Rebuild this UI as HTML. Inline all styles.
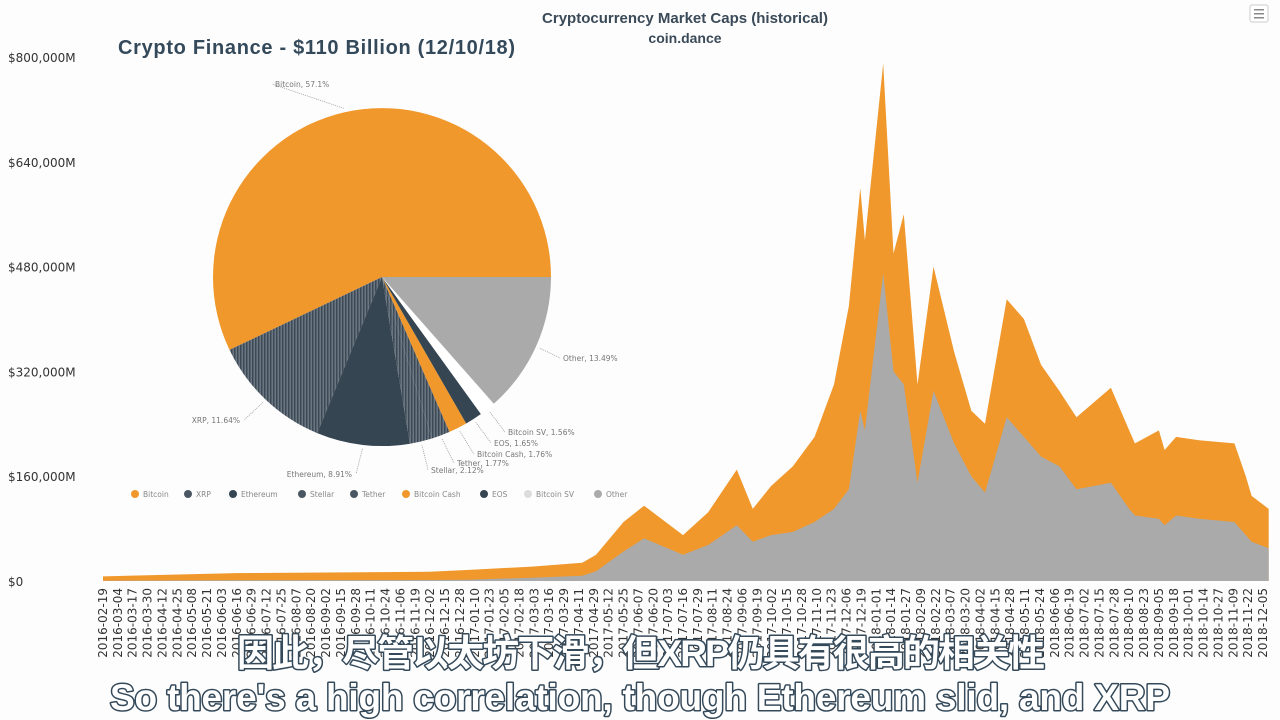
<!DOCTYPE html>
<html><head><meta charset="utf-8"><style>
html,body{margin:0;padding:0;background:#fdfdfd;width:1280px;height:720px;overflow:hidden}
svg{display:block}
.sub{font-family:"Liberation Sans","Noto Sans CJK SC",sans-serif;font-weight:bold;fill:#fff;stroke:#34495a;stroke-width:3px;paint-order:stroke;stroke-linejoin:round}
</style></head><body>
<svg id="chart" width="1280" height="720" xmlns="http://www.w3.org/2000/svg">
<defs>
<pattern id="hatch" width="3" height="3" patternUnits="userSpaceOnUse"><rect width="3" height="3" fill="#6b7680"/><rect width="1.5" height="3" fill="#3c4a57"/></pattern>
</defs>
<text x="685" y="23" text-anchor="middle" font-family="Liberation Sans,sans-serif" font-weight="bold" font-size="15" fill="#3a4a58">Cryptocurrency Market Caps (historical)</text>
<text x="685" y="43" text-anchor="middle" font-family="Liberation Sans,sans-serif" font-weight="bold" font-size="14" fill="#3a4a58">coin.dance</text>
<g><rect x="1250" y="5" width="18" height="17" rx="2" fill="#fff" stroke="#ccc"/><rect x="1254" y="9" width="10" height="1.5" fill="#888"/><rect x="1254" y="13" width="10" height="1.5" fill="#888"/><rect x="1254" y="17" width="10" height="1.5" fill="#888"/></g>
<g id="yaxis"></g>
<g id="areas"></g>
<g id="xaxis"></g>
<g id="pie"></g>
<g id="legend"></g>
<text x="118" y="54" font-family="Liberation Sans,sans-serif" font-weight="bold" font-size="20" fill="#34495a" textLength="397">Crypto Finance - $110 Billion (12/10/18)</text>
<text class="sub" x="641" y="666" text-anchor="middle" font-size="37" textLength="808">因此，尽管以太坊下滑，但XRP仍具有很高的相关性</text>
<text class="sub" x="640" y="710" text-anchor="middle" font-size="37" textLength="1060">So there's a high correlation, though Ethereum slid, and XRP</text>
</svg>
<script>
// ---- area chart data (values in $ billions) ----
const dates = ["2016-02-19","2016-06-15","2016-12-01","2017-01-05","2017-03-01","2017-04-15","2017-05-01","2017-05-25","2017-06-12","2017-07-16","2017-08-07","2017-09-01","2017-09-15","2017-10-01","2017-10-20","2017-11-08","2017-11-25","2017-12-08","2017-12-18","2017-12-22","2018-01-07","2018-01-16","2018-01-25","2018-02-06","2018-02-20","2018-03-10","2018-03-25","2018-04-06","2018-04-25","2018-05-10","2018-05-25","2018-06-10","2018-06-25","2018-07-25","2018-08-10","2018-08-15","2018-09-05","2018-09-10","2018-09-20","2018-10-10","2018-11-10","2018-11-20","2018-11-25","2018-12-10"];
const totalCap = [7,12,14,17,22,28,40,90,115,70,105,170,110,145,175,220,300,420,600,520,790,500,560,300,480,350,260,240,430,400,330,290,250,295,230,210,230,200,220,215,210,160,130,110];
const altCap = [0.5,1,1.5,2,5,8,15,45,65,40,55,85,60,70,75,90,110,140,260,230,470,320,300,150,290,210,160,135,250,220,190,175,140,150,110,100,95,85,100,95,90,70,60,50];
const yTicks = [0,160000,320000,480000,640000,800000];
// ---- pie data ----
const pieNames = ["Bitcoin","XRP","Ethereum","Stellar","Tether","Bitcoin Cash","EOS","Bitcoin SV","Other"];
const pieShares = [57.1,11.64,8.91,2.12,1.77,1.76,1.65,1.56,13.49];
const pieFills = ["#f0982b","url(#hatch)","#364552","url(#hatch)","url(#hatch)","#f0982b","#364552","#ffffff","#aaaaaa"];

const NS="http://www.w3.org/2000/svg";
function mk(tag,attrs,parent){const e=document.createElementNS(NS,tag);for(const k in attrs)e.setAttribute(k,attrs[k]);parent.appendChild(e);return e;}
const t0=Date.UTC(2016,1,19);
function dayOf(s){const p=s.split("-");return (Date.UTC(+p[0],+p[1]-1,+p[2])-t0)/86400000;}
function fmt(d){return new Date(t0+d*86400000).toISOString().slice(0,10);}
// category tick days (as on the reference axis)
const tickDays=[0];
for(let k=0;k<=31;k++)tickDays.push(dayOf("2016-03-04")+13*k);
for(let k=0;k<=45;k++)tickDays.push(dayOf("2017-04-29")+13*k);
const x0=103,x1=1263,step=(x1-x0)/(tickDays.length-1);
function xS(d){
  for(let i=0;i<tickDays.length-1;i++){
    if(d<=tickDays[i+1]){return x0+step*(i+(d-tickDays[i])/(tickDays[i+1]-tickDays[i]));}
  }
  const n=tickDays.length-1;return x0+step*(n+(d-tickDays[n])/13);
}
const yS=v=>581-v*0.655;   // v in billions

// y axis
const ya=document.getElementById("yaxis");
yTicks.forEach(t=>{
  const tx=mk("text",{x:8,y:yS(t/1000)+5,"font-family":"DejaVu Sans,sans-serif","font-size":"12",fill:"#333"},ya);
  
  
  tx.textContent="$"+t.toLocaleString("en-US")+(t?"M":"");
});

// areas
const ar=document.getElementById("areas");
function area(vals,fill,name){
  let d="M"+xS(dayOf(dates[0]))+","+yS(0);
  dates.forEach((s,i)=>{d+=" L"+xS(dayOf(s)).toFixed(1)+","+yS(vals[i]).toFixed(1);});
  d+=" L"+xS(dayOf(dates[dates.length-1])).toFixed(1)+","+yS(0)+"Z";
  const p=mk("path",{d:d,fill:fill},ar);
  
  
}
area(totalCap,"#f0982b","bitcoin-area");
area(altCap,"#aaaaaa","altcoin-area");

// x axis labels
const xa=document.getElementById("xaxis");
tickDays.forEach((d,i)=>{
  const x=x0+step*i+4;
  const tx=mk("text",{x:0,y:0,transform:`translate(${x.toFixed(1)},588) rotate(-90)`,"text-anchor":"end","font-family":"DejaVu Sans,sans-serif","font-size":"12",fill:"#333"},xa);
  
  
  tx.textContent=fmt(d);
});

// pie
const pg=document.getElementById("pie");
const cx=382,cy=277,r=169;
let a=0;
const labelPos=[[275,87,"start"],[240,423,"end"],[352,477,"end"],[431,473,"start"],[457,466,"start"],[477,457,"start"],[494,446,"start"],[508,435,"start"],[563,361,"start"]];
pieShares.forEach((s,i)=>{
  const a1=a, a2=a+s/100*2*Math.PI;
  const px1=cx+r*Math.cos(a1),py1=cy-r*Math.sin(a1),px2=cx+r*Math.cos(a2),py2=cy-r*Math.sin(a2);
  const large=(a2-a1)>Math.PI?1:0;
  const p=mk("path",{d:`M${cx},${cy} L${px1.toFixed(1)},${py1.toFixed(1)} A${r},${r} 0 ${large} 0 ${px2.toFixed(1)},${py2.toFixed(1)} Z`,fill:pieFills[i]},pg);
  
  
  const mid=(a1+a2)/2;
  const lp=labelPos[i];
  const ex=cx+(r+4)*Math.cos(mid),ey=cy-(r+4)*Math.sin(mid);
  const ln=mk("polyline",{points:`${ex.toFixed(1)},${ey.toFixed(1)} ${lp[0]+(lp[2]=="end"?4:-3)},${lp[1]-3}`,fill:"none",stroke:"#999","stroke-width":"0.8","stroke-dasharray":"1,1"},pg);
  
  
  const tx=mk("text",{x:lp[0],y:lp[1],"text-anchor":lp[2],"font-family":"DejaVu Sans,sans-serif","font-size":"7.5",fill:"#777"},pg);
  
  
  tx.textContent=pieNames[i]+", "+s+"%";
  a=a2;
});

// legend
const lg=document.getElementById("legend");
const legX=[135,188,233,302,354,406,484,528,598];
pieNames.forEach((n,i)=>{
  const g=mk("g",{},lg);
  
  
  const col=pieFills[i]==="url(#hatch)"?"#4a5763":(pieFills[i]==="#ffffff"?"#ddd":pieFills[i]);
  mk("circle",{cx:legX[i],cy:494,r:4,fill:col},g);
  const tx=mk("text",{x:legX[i]+8,y:497,"font-family":"DejaVu Sans,sans-serif","font-size":"7.5",fill:"#888"},g);
  tx.textContent=n;
});
</script>
</body></html>
